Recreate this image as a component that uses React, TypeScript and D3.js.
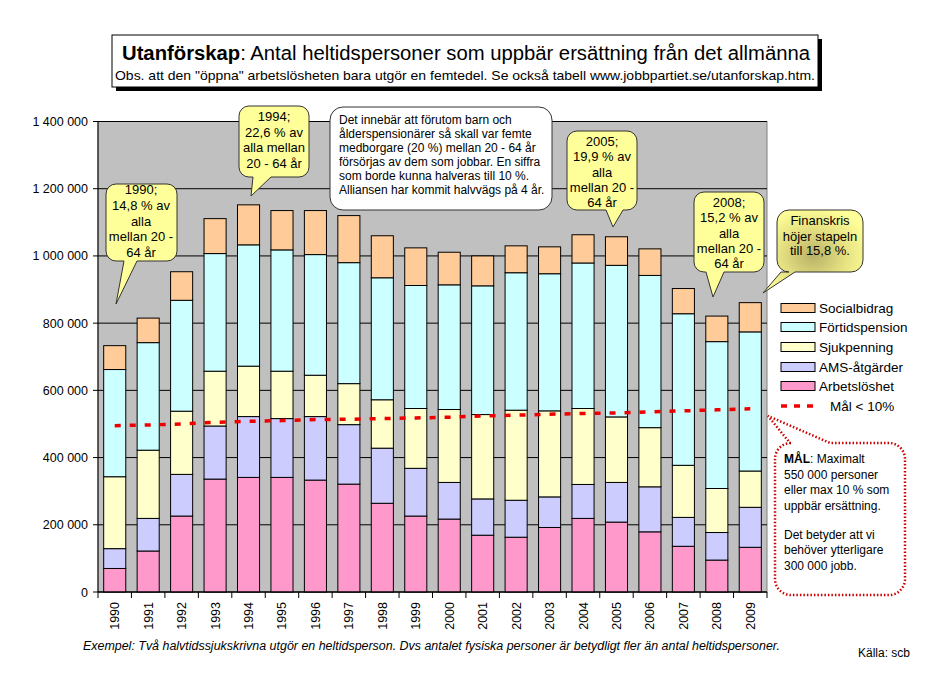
import React from "react";
import * as d3 from "d3";

const years = ["1990","1991","1992","1993","1994","1995","1996","1997","1998","1999","2000","2001","2002","2003","2004","2005","2006","2007","2008","2009"];
// cumulative tops, converted to per-series values below
const arbetsloshet = [70, 122, 226, 336, 341, 341, 333, 321, 264, 226, 217, 169, 163, 192, 219, 208, 179, 136, 95, 133];
const amsTop = [129, 219, 350, 494, 522, 516, 522, 498, 428, 368, 326, 277, 273, 283, 320, 326, 313, 222, 177, 252];
const sjukTop = [343, 422, 538, 657, 672, 657, 645, 620, 572, 546, 543, 528, 541, 539, 546, 521, 489, 377, 308, 360];
const fortidTop = [662, 742, 868, 1007, 1033, 1018, 1004, 980, 935, 912, 914, 911, 950, 947, 979, 972, 942, 828, 745, 774];
const socialTop = [733, 815, 953, 1111, 1152, 1135, 1135, 1120, 1060, 1024, 1011, 1000, 1030, 1027, 1063, 1057, 1021, 903, 821, 861];
const malLine = [495, 497, 500, 505, 508, 510, 513, 514, 516, 518, 520, 524, 526, 529, 531, 533, 536, 539, 542, 545];

const yTicks = [0, 200000, 400000, 600000, 800000, 1000000, 1200000, 1400000];

const seriesNames = ["Arbetslöshet", "AMS-åtgärder", "Sjukpenning", "Förtidspension", "Socialbidrag"];
const seriesColors = ["#ff99cc", "#ccccff", "#ffffcc", "#ccffff", "#ffcc99"];

function callout(x: number, y: number, w: number, h: number, r: number, side: "bottom" | "top", b1: number, b2: number, tx: number, ty: number) {
  const p = d3.path();
  p.moveTo(x + r, y);
  if (side === "top") {
    p.lineTo(b1, y);
    p.lineTo(tx, ty);
    p.lineTo(b2, y);
  }
  p.lineTo(x + w - r, y);
  p.arcTo(x + w, y, x + w, y + r, r);
  p.lineTo(x + w, y + h - r);
  p.arcTo(x + w, y + h, x + w - r, y + h, r);
  if (side === "bottom") {
    p.lineTo(b2, y + h);
    p.lineTo(tx, ty);
    p.lineTo(b1, y + h);
  }
  p.lineTo(x + r, y + h);
  p.arcTo(x, y + h, x, y + h - r, r);
  p.lineTo(x, y + r);
  p.arcTo(x, y, x + r, y, r);
  p.closePath();
  return p.toString();
}

export default function App() {
  const left = 98, right = 767, top = 121.5, bottom = 592;
  const x = d3.scaleBand<string>().domain(years).range([left, right]).paddingInner(0.34).paddingOuter(0.17);
  const xc = d3.scaleBand<string>().domain(years).range([left, right]);
  const y = d3.scaleLinear().domain([0, 1400000]).range([bottom, top]);

  const tops = [arbetsloshet, amsTop, sjukTop, fortidTop, socialTop];
  const rows = years.map((yr, i) => {
    const o: any = { year: yr };
    seriesNames.forEach((s, k) => {
      o[s] = (tops[k][i] - (k > 0 ? tops[k - 1][i] : 0)) * 1000;
    });
    return o;
  });
  const stacked = d3.stack<any>().keys(seriesNames)(rows);

  const line = d3.line<number>()
    .x((_, i) => xc(years[i])! + xc.bandwidth() / 2)
    .y((d) => y(d * 1000));

  const font = "Liberation Sans, Arial, sans-serif";
  const yel = "#ffff99";

  const legendItems = ["Socialbidrag", "Förtidspension", "Sjukpenning", "AMS-åtgärder", "Arbetslöshet"];
  const legendColors = ["#ffcc99", "#ccffff", "#ffffcc", "#ccccff", "#ff99cc"];
  const legendY = [308, 327, 347, 367, 386];

  const fmt = (v: number) => d3.format(",")(v).replace(/,/g, " ");

  const yellowCallouts = [
    { x: 106, y: 184, w: 71, h: 77, b1: 124, b2: 137, tx: 116, ty: 304, cx: 141, lines: ["1990;", "14,8 % av", "alla", "mellan 20 -", "64 år"], ly: [194, 210, 226, 241, 257] },
    { x: 239, y: 106, w: 70, h: 71, b1: 253, b2: 271, tx: 251, ty: 196, cx: 274, lines: ["1994;", "22,6 % av", "alla mellan", "20 - 64 år"], ly: [121, 137, 152, 168] },
    { x: 567, y: 131, w: 70, h: 79, b1: 606, b2: 623, tx: 613, ty: 227, cx: 602, lines: ["2005;", "19,9 % av", "alla", "mellan 20 -", "64 år"], ly: [146, 161, 177, 192, 207] },
    { x: 694, y: 192, w: 70, h: 80, b1: 706, b2: 724, tx: 713, ty: 297, cx: 729, lines: ["2008;", "15,2 % av", "alla", "mellan 20 -", "64 år"], ly: [207, 222, 238, 253, 268] },
  ];

  return (
    <svg width={928} height={684} style={{ position: "absolute", left: 0, top: 0, background: "#fff" }} fontFamily={font}>
      <defs>
        <radialGradient id="fin" cx="50%" cy="55%" r="60%">
          <stop offset="0%" stopColor="#b8b168" />
          <stop offset="55%" stopColor="#e6e282" />
          <stop offset="100%" stopColor="#ffff99" />
        </radialGradient>
        {yellowCallouts.map((c, i) => (
          <clipPath id={"cl" + i} key={i}>
            <rect x={c.x + 1} y={c.y} width={c.w - 2} height={c.h} />
          </clipPath>
        ))}
      </defs>

      {/* Title box */}
      <rect x={116} y={39} width={706} height={52} fill="#000" />
      <rect x={112} y={35} width={706} height={52} fill="#fff" stroke="#000" strokeWidth={1} />
      <text x={466} y={60} textAnchor="middle" fontSize={19.5} textLength={688} lengthAdjust="spacingAndGlyphs">
        <tspan fontWeight="bold">Utanförskap</tspan>: Antal heltidspersoner som uppbär ersättning från det allmänna
      </text>
      <text x={465} y={80} textAnchor="middle" fontSize={13} textLength={700} lengthAdjust="spacingAndGlyphs">
        Obs. att den "öppna" arbetslösheten bara utgör en femtedel. Se också tabell  www.jobbpartiet.se/utanforskap.htm.
      </text>

      {/* Plot area */}
      <rect x={left} y={top} width={right - left} height={bottom - top} fill="#c0c0c0" stroke="#808080" strokeWidth={1} />
      {yTicks.map((t) => (
        <g key={t}>
          <line x1={left - 5} x2={right} y1={y(t)} y2={y(t)} stroke="#000" strokeWidth={1} />
          <text x={88} y={y(t) + 4.5} textAnchor="end" fontSize={12.5}>{fmt(t)}</text>
        </g>
      ))}
      <line x1={left} x2={left} y1={top} y2={bottom} stroke="#000" />

      {/* Bars */}
      {stacked.map((s, k) => (
        <g key={s.key}>
          {s.map((d, i) => (
            <rect key={i} x={x(years[i])} y={y(d[1])} width={x.bandwidth()} height={y(d[0]) - y(d[1])}
              fill={seriesColors[k]} stroke="#000" strokeWidth={1} />
          ))}
        </g>
      ))}

      {/* Mål line */}
      <path d={line(malLine)!} fill="none" stroke="#ee0000" strokeWidth={3.5} strokeDasharray="6,9" />

      {/* X axis */}
      <line x1={left} x2={right} y1={bottom} y2={bottom} stroke="#000" />
      {years.map((yr, i) => (
        <g key={yr}>
          <line x1={xc(yr)!} x2={xc(yr)!} y1={bottom} y2={bottom + 6} stroke="#000" />
          <text transform={`translate(${xc(yr)! + xc.bandwidth() / 2 + 4.5},${bottom + 10}) rotate(-90)`} textAnchor="end" fontSize={12.5}>{yr}</text>
        </g>
      ))}
      <line x1={right} x2={right} y1={bottom} y2={bottom + 6} stroke="#000" />

      {/* Legend */}
      {legendItems.map((l, i) => (
        <g key={l}>
          <rect x={781} y={legendY[i] - 4.5} width={34} height={9} fill={legendColors[i]} stroke="#000" />
          <text x={819} y={legendY[i] + 5} fontSize={13.5}>{l}</text>
        </g>
      ))}
      <line x1={781} x2={817} y1={406} y2={406} stroke="#ee0000" strokeWidth={3.5} strokeDasharray="6,7" />
      <text x={830} y={411} fontSize={13.5}>Mål &lt; 10%</text>

      {/* Yellow callouts */}
      {yellowCallouts.map((c, i) => (
        <g key={i}>
          <path d={callout(c.x, c.y, c.w, c.h, 10, "bottom", c.b1, c.b2, c.tx, c.ty)} fill={yel} stroke="#333" strokeWidth={1} />
          <g clipPath={`url(#cl${i})`}>
            {c.lines.map((t, j) => (
              <text key={j} x={c.cx} y={c.ly[j]} textAnchor="middle" fontSize={13}>{t}</text>
            ))}
          </g>
        </g>
      ))}

      {/* Finanskris */}
      <path d={callout(777, 210, 86, 62, 12, "bottom", 781, 795, 763, 293)} fill="url(#fin)" stroke="#333" strokeWidth={1} />
      <text x={820} y={225} textAnchor="middle" fontSize={13}>Finanskris</text>
      <text x={820} y={241} textAnchor="middle" fontSize={13}>höjer stapeln</text>
      <text x={820} y={255} textAnchor="middle" fontSize={13}>till 15,8 %.</text>

      {/* White info box */}
      <rect x={330} y={107} width={222} height={103} rx={13} fill="#fff" stroke="#333" />
      {["Det innebär att förutom barn och", "ålderspensionärer så skall var femte", "medborgare (20 %) mellan 20 - 64 år", "försörjas av dem som jobbar. En siffra", "som borde kunna halveras till 10 %.", "Alliansen har kommit halvvägs på 4 år."].map((t, j) => (
        <text key={j} x={339} y={124 + j * 14} fontSize={12}>{t}</text>
      ))}

      {/* MÅL box */}
      <path d={callout(775, 443, 130, 152, 16, "top", 790, 830, 768, 416)} fill="#fff" stroke="#cc0000" strokeWidth={2.5} strokeDasharray="1.5,2" />
      <text x={784} y={463} fontSize={12}><tspan fontWeight="bold">MÅL</tspan>: Maximalt</text>
      <text x={784} y={479} fontSize={12}>550 000 personer</text>
      <text x={784} y={494} fontSize={12}>eller max  10 % som</text>
      <text x={784} y={510} fontSize={12}>uppbär ersättning.</text>
      <text x={784} y={539} fontSize={12}>Det betyder att vi</text>
      <text x={784} y={554} fontSize={12}>behöver ytterligare</text>
      <text x={784} y={570} fontSize={12}>300 000 jobb.</text>

      {/* Footer */}
      <text x={83} y={650} fontSize={12} fontStyle="italic" textLength={697} lengthAdjust="spacingAndGlyphs">
        Exempel: Två halvtidssjukskrivna utgör en heltidsperson. Dvs antalet fysiska personer är betydligt fler än antal heltidspersoner.
      </text>
      <text x={858} y={657} fontSize={12}>Källa: scb</text>
    </svg>
  );
}
